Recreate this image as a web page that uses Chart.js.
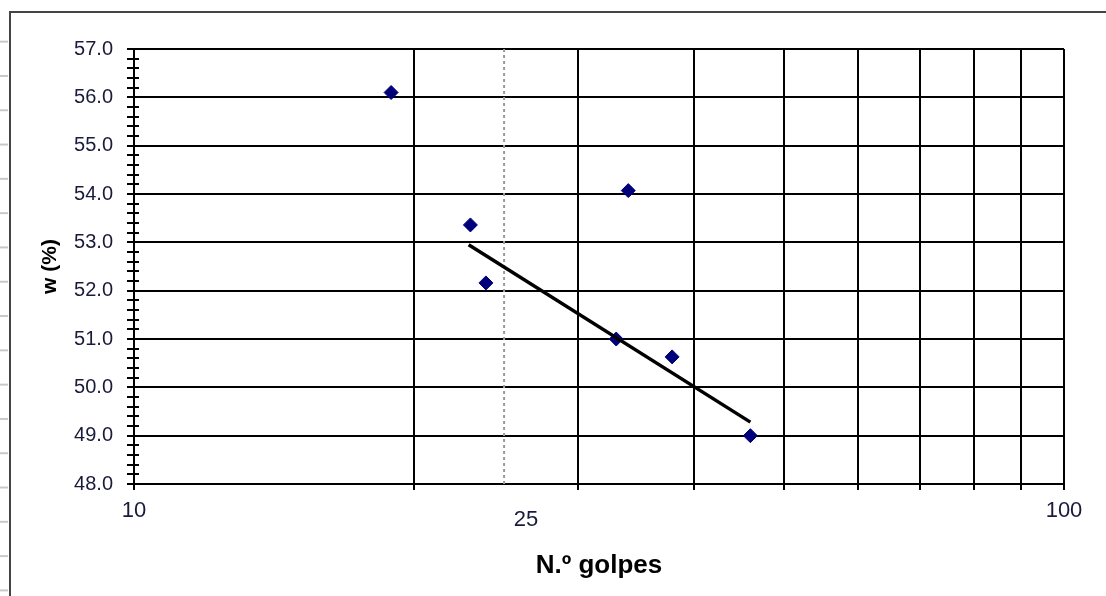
<!DOCTYPE html>
<html>
<head>
<meta charset="utf-8">
<script src="https://cdn.jsdelivr.net/npm/chart.js@4"></script>
<style>
  html, body { margin: 0; padding: 0; background: #fff; }
  body { width: 1106px; height: 596px; position: relative; overflow: hidden; }
  #rows {
    position: absolute; left: 0; top: 25px; width: 8px; height: 571px;
    background-image: linear-gradient(to bottom, transparent 0, transparent 16px, #c8c8c8 16px, #c8c8c8 18px, transparent 18px);
    background-size: 8px 34.3px;
  }
  #frame {
    position: absolute; left: 9px; top: 11px; right: -4px; bottom: -4px;
    border-left: 2px solid #444; border-top: 2px solid #444;
  }
  #chart { position: absolute; left: 0; top: 0; }
</style>
</head>
<body>
<div id="rows"></div>
<div id="frame"></div>
<canvas id="chart" width="1106" height="596"></canvas>
<script>
const blows = [18.9, 23.0, 23.9, 34.0, 33.0, 37.9, 46.0];
const moisture = [56.1, 53.36, 52.16, 54.07, 51.0, 50.63, 49.0];

const trendBlows = [22.9, 46.0];
const trendMoisture = [52.95, 49.28];

const refBlows = 25;

const xTickValues = [10, 20, 25, 30, 40, 50, 60, 70, 80, 90, 100];
const xLabelValues = [10, 25, 100];

const yMin = 48;
const yMax = 57;
const yMinorStep = 0.2;

const FONT = "'Liberation Sans', Arial, sans-serif";

const toPoints = (xs, ys) => xs.map((x, i) => ({ x, y: ys[i] }));
const isMajor = (v) => Math.abs(v - Math.round(v)) < 1e-6;

// draws the part of the minor y ticks that sits inside the plot
const innerTicks = {
  id: 'innerTicks',
  afterDraw(chart) {
    const scale = chart.scales.y;
    const ctx = chart.ctx;
    const x0 = chart.chartArea.left;
    ctx.save();
    ctx.strokeStyle = '#000';
    ctx.lineWidth = 2;
    scale.ticks.forEach((t) => {
      if (isMajor(t.value)) return;
      const y = Math.round(scale.getPixelForValue(t.value));
      ctx.beginPath();
      ctx.moveTo(x0, y);
      ctx.lineTo(x0 + 5, y);
      ctx.stroke();
    });
    ctx.restore();
  },
};

new Chart(document.getElementById('chart'), {
  type: 'scatter',
  data: {
    datasets: [
      {
        data: toPoints(trendBlows, trendMoisture),
        showLine: true,
        borderColor: '#000',
        borderWidth: 3.5,
        pointRadius: 0,
      },
      {
        data: toPoints(blows, moisture),
        pointStyle: 'rectRot',
        pointRadius: 7,
        backgroundColor: '#00007a',
        borderColor: '#00007a',
        borderWidth: 1,
      },
      {
        data: toPoints([refBlows, refBlows], [yMin, yMax]),
        showLine: true,
        borderColor: '#9a9a9a',
        borderWidth: 2,
        borderDash: [3, 3],
        pointRadius: 0,
      },
    ],
  },
  options: {
    responsive: false,
    animation: false,
    layout: { padding: { left: 0, top: 49, right: 42, bottom: 0 } },
    plugins: {
      legend: { display: false },
      tooltip: { enabled: false },
    },
    scales: {
      x: {
        type: 'logarithmic',
        min: 10,
        max: 100,
        afterBuildTicks: (scale) => {
          scale.ticks = xTickValues.map((value) => ({ value }));
        },
        afterFit: (scale) => { scale.height = 112; },
        border: { color: '#000', width: 2 },
        grid: {
          color: (c) => (c.tick && c.tick.value === refBlows ? 'rgba(0,0,0,0)' : '#000'),
          tickColor: (c) => (c.tick && c.tick.value === refBlows ? 'rgba(0,0,0,0)' : '#000'),
          lineWidth: 2,
          tickLength: 6,
        },
        ticks: {
          autoSkip: false,
          maxRotation: 0,
          padding: 8,
          color: '#1a1a3a',
          font: (c) => ({
            family: FONT,
            size: 22,
            lineHeight: c.tick && c.tick.value === refBlows ? 1.95 : 1.2,
          }),
          callback: (v) => {
            if (!xLabelValues.includes(v)) return '';
            // the 25 label sits a little right of its line in the original
            return v === refBlows ? '\u2002\u2002\u2002\u2002' + v : String(v);
          },
        },
        title: {
          display: true,
          text: 'N.º golpes',
          color: '#000',
          font: { family: FONT, size: 26, weight: 'bold' },
          padding: { top: 0, bottom: 15 },
        },
      },
      y: {
        min: yMin,
        max: yMax,
        afterFit: (scale) => { scale.width = 134; },
        border: { color: '#000', width: 2 },
        grid: {
          color: (c) => (c.tick && isMajor(c.tick.value) ? '#000' : 'rgba(0,0,0,0)'),
          tickColor: '#000',
          lineWidth: 2,
          tickLength: 7,
        },
        ticks: {
          stepSize: yMinorStep,
          autoSkip: false,
          padding: 14,
          color: '#1a1a3a',
          font: { family: FONT, size: 20 },
          callback: (v) => (isMajor(v) ? Number(v).toFixed(1) : ''),
        },
        title: {
          display: true,
          text: 'w (%)',
          color: '#000',
          font: { family: FONT, size: 21, weight: 'bold' },
          padding: { top: 38, bottom: 0 },
        },
      },
    },
  },
  plugins: [innerTicks],
});
</script>
</body>
</html>
